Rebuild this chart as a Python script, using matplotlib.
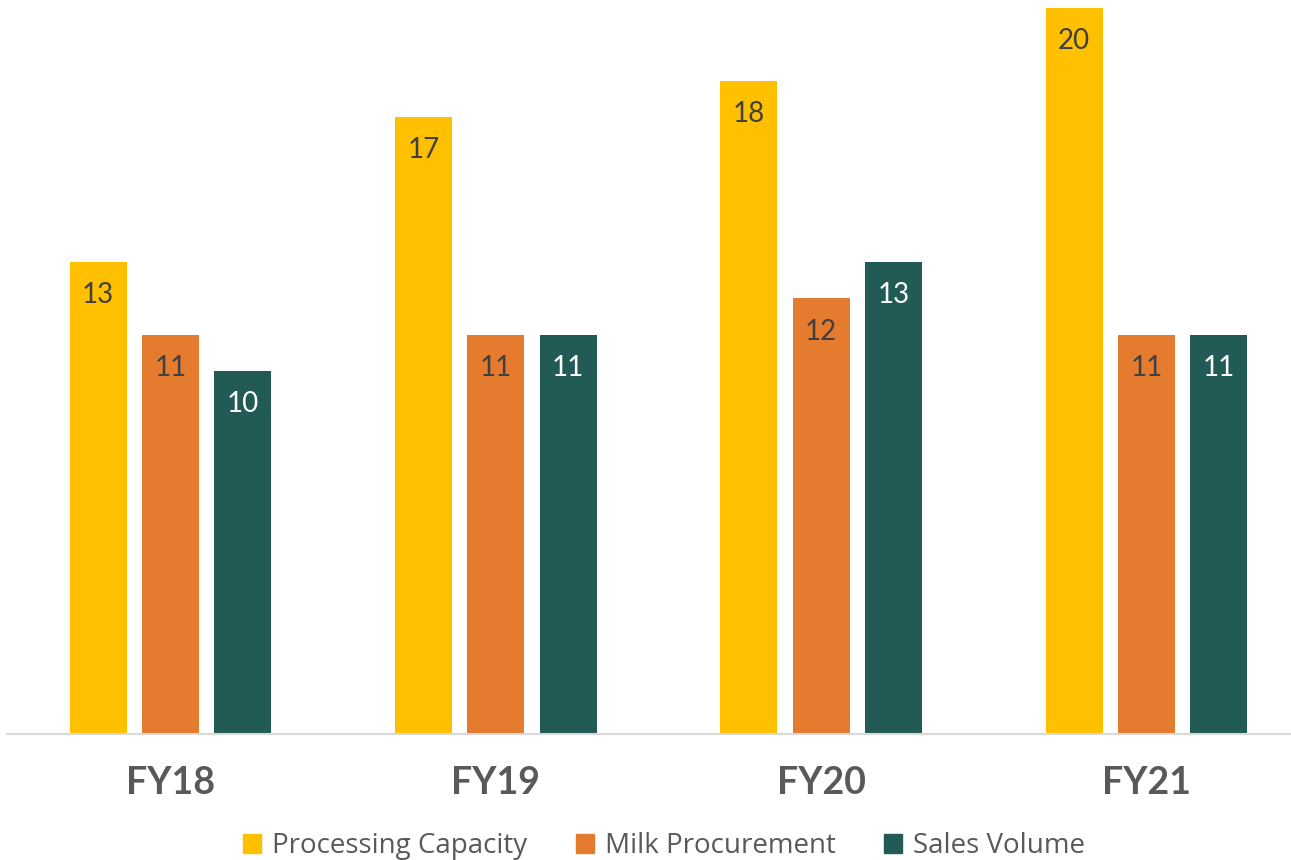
#!/usr/bin/env python3
"""Grouped bars: processing capacity, milk procurement and sales volume, FY18-FY21."""

import numpy as np
import matplotlib
matplotlib.use('Agg')
import matplotlib.pyplot as plt
import matplotlib.patches as mpatches

years = ['FY18', 'FY19', 'FY20', 'FY21']
series_names = ['Processing Capacity', 'Milk Procurement', 'Sales Volume']
processing_capacity = [13, 17, 18, 20]
milk_procurement = [11, 11, 12, 11]
sales_volume = [10, 11, 13, 11]

COLORS = ['#FFC000', '#E57B2F', '#225A56']
LABEL_COLORS = ['#404040', '#404040', 'white']

fig = plt.figure(figsize=(12.91, 8.6), dpi=100)
ax = fig.add_axes([7 / 1291, (860 - 734) / 860, 1 - 7 / 1291, 734 / 860])

x = np.arange(len(years))
width = 0.175
step = 0.2222
all_series = [processing_capacity, milk_procurement, sales_volume]

for i, vals in enumerate(all_series):
    bars = ax.bar(x + (i - 1) * step, vals, width, color=COLORS[i], zorder=2)
    for b, v in zip(bars, vals):
        ax.annotate(str(v), (b.get_x() + b.get_width() / 2, v),
                    xytext=(0, -24), textcoords='offset points',
                    ha='center', va='center', fontsize=20,
                    color=LABEL_COLORS[i], family='Lato')

ax.set_xlim(-0.5026, 3.444)
ax.set_ylim(0, 20.22)
ax.set_yticks([])
ax.set_xticks([])
for s in ['top', 'right', 'left']:
    ax.spines[s].set_visible(False)
ax.spines['bottom'].set_color('#D9D9D9')
ax.spines['bottom'].set_linewidth(1.5)
ax.patch.set_alpha(0)

for xi, yr in zip(x, years):
    ax.annotate(yr, (xi, 0), xytext=(0, -35), textcoords='offset points',
                ha='center', va='center', fontsize=27, fontweight='bold',
                color='#595959', family='Lato')

handles = [mpatches.Patch(color=c, label=n) for c, n in zip(COLORS, series_names)]
leg = fig.legend(handles=handles, loc='center', bbox_to_anchor=(664 / 1291, 1 - 846 / 860),
                 ncol=3, frameon=False, handlelength=0.65, handleheight=0.65,
                 handletextpad=0.4, columnspacing=1.75,
                 prop={'family': 'Open Sans', 'size': 20})
for t in leg.get_texts():
    t.set_color('#595959')

fig.savefig('out.png', dpi=100, facecolor='white')
